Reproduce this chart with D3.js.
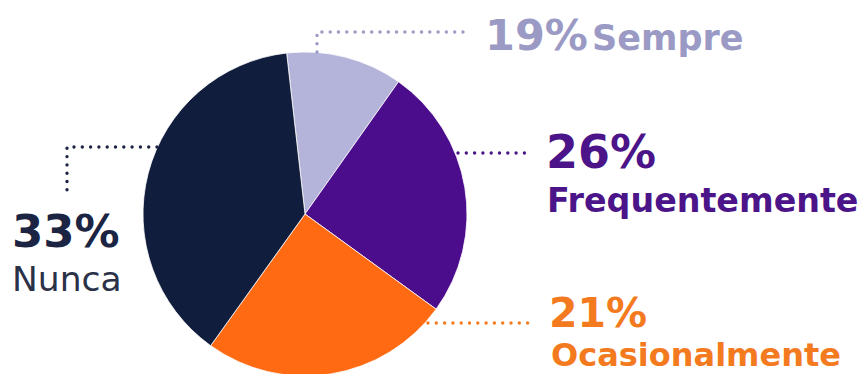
<!DOCTYPE html>
<html>
<head>
<meta charset="utf-8">
<script src="https://cdn.jsdelivr.net/npm/d3@7"></script>
<style>
  body{margin:0;background:#fff;}
  svg{display:block;}
  .pct{font-family:"DejaVu Sans",sans-serif;font-weight:bold;}
  .lbl{font-family:"DejaVu Sans",sans-serif;}
</style>
</head>
<body>
<svg id="chart" width="861" height="374"></svg>
<script>
// categories, in drawing order (clockwise from top)
var categories=["Sempre","Frequentemente","Ocasionalmente","Nunca"];
// percentages printed on the labels
var labelPct=[19,26,21,33];
// slice sizes as they are drawn in the picture (the source art doesn't follow its own labels)
var sliceShare=[11.6,25.2,24.9,38.3];
var colors=["#b4b3da","#4b0d8c","#ff6a12","#111d3c"];
var textColors=["#9b9ac5","#4b1489","#f47a20","#1b2442"];

var svg=d3.select("#chart");
var cx=305,cy=214,R=162;

var pie=d3.pie().sort(null).value(function(d){return d;})
    .startAngle(-6.5*Math.PI/180).endAngle(-6.5*Math.PI/180+2*Math.PI);
var arc=d3.arc().innerRadius(0).outerRadius(R);

var g=svg.append("g").attr("transform","translate("+cx+","+cy+")");
g.selectAll("path.slice").data(pie(sliceShare)).enter().append("path")
    .attr("class","slice")
    .attr("d",arc)
    .style("fill",function(d,i){return colors[i];})
    .style("stroke","#fff").style("stroke-width",0.8);

// dotted leader lines (points are in page coords)
var leaders=[
    [[317,52],[317,32],[470,32]],
    [[458,153],[528,153]],
    [[428,323],[530,323]],
    [[157,147],[67,147],[67,197]]
];
var line=d3.line();
svg.selectAll("path.leader").data(leaders).enter().append("path")
    .attr("class","leader")
    .attr("d",line)
    .style("fill","none")
    .style("stroke",function(d,i){return textColors[i];})
    .style("stroke-width",3.4).style("stroke-linecap","round")
    .style("stroke-dasharray","0 8.3");

// labels: [pct x, pct y, pct size, name x, name y, name size, name weight]
var labelPos=[
    [485,50,43,592,50,35,"bold"],
    [546,168,46,547,212,33.3,"bold"],
    [549,327,41,551,366,32,"bold"],
    [12,247,45,12,291,34.5,"normal"]
];
var lab=svg.selectAll("g.label").data(categories).enter().append("g").attr("class","label");
lab.append("text").attr("class","pct")
    .attr("x",function(d,i){return labelPos[i][0];})
    .attr("y",function(d,i){return labelPos[i][1];})
    .style("font-size",function(d,i){return labelPos[i][2]+"px";})
    .style("fill",function(d,i){return textColors[i];})
    .text(function(d,i){return labelPct[i]+"%";});
lab.append("text").attr("class","lbl")
    .attr("x",function(d,i){return labelPos[i][3];})
    .attr("y",function(d,i){return labelPos[i][4];})
    .style("font-size",function(d,i){return labelPos[i][5]+"px";})
    .style("font-weight",function(d,i){return labelPos[i][6];})
    .style("fill",function(d,i){return i==3?"#2b3248":textColors[i];})
    .text(function(d){return d;});
</script>
</body>
</html>
